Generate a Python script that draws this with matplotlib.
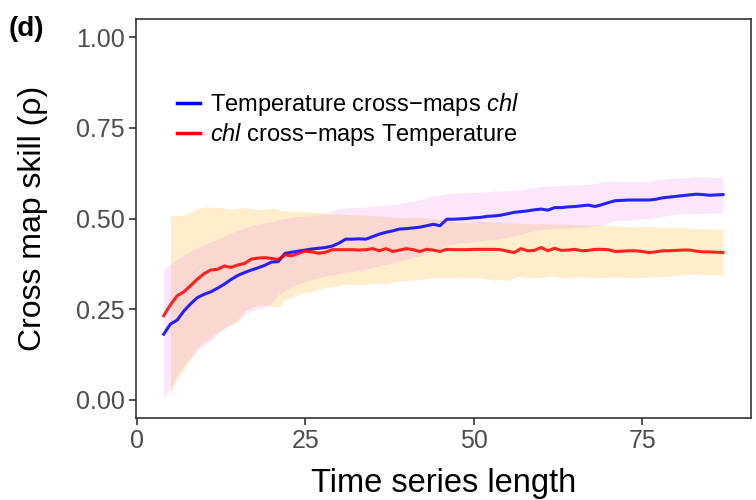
import numpy as np
import matplotlib
matplotlib.use("Agg")
import matplotlib.pyplot as plt

plt.rcParams['font.family'] = ['Liberation Sans', 'DejaVu Sans']
plt.rcParams['mathtext.fontset'] = 'custom'
plt.rcParams['mathtext.it'] = 'Liberation Sans:italic'
plt.rcParams['mathtext.rm'] = 'Liberation Sans'

# library sizes (time series length)
lib_size = list(range(4, 88))

# Temperature cross-maps chl (blue line + violet ribbon)
temp_xmap_chl = [
    0.181, 0.209, 0.220, 0.245, 0.265, 0.282, 0.291, 0.298, 0.308, 0.319,
    0.332, 0.343, 0.351, 0.358, 0.364, 0.371, 0.380, 0.381, 0.404, 0.407,
    0.410, 0.413, 0.416, 0.418, 0.420, 0.424, 0.432, 0.443, 0.443, 0.444,
    0.443, 0.450, 0.457, 0.462, 0.466, 0.471, 0.472, 0.474, 0.476, 0.480,
    0.484, 0.480, 0.498, 0.498, 0.499, 0.500, 0.502, 0.503, 0.506, 0.507,
    0.509, 0.513, 0.517, 0.519, 0.521, 0.524, 0.526, 0.523, 0.530, 0.530,
    0.532, 0.533, 0.535, 0.537, 0.533, 0.538, 0.544, 0.549, 0.550, 0.551,
    0.551, 0.551, 0.551, 0.553, 0.557, 0.559, 0.561, 0.563, 0.565, 0.567,
    0.566, 0.564, 0.565, 0.566]
temp_upper = [
    0.360, 0.375, 0.388, 0.400, 0.410, 0.420, 0.428, 0.436, 0.443, 0.451,
    0.460, 0.468, 0.474, 0.480, 0.485, 0.488, 0.491, 0.497, 0.500, 0.503,
    0.506, 0.507, 0.508, 0.510, 0.512, 0.520, 0.527, 0.529, 0.530, 0.531,
    0.532, 0.534, 0.535, 0.537, 0.539, 0.541, 0.545, 0.548, 0.551, 0.556,
    0.562, 0.565, 0.568, 0.570, 0.571, 0.572, 0.572, 0.573, 0.574, 0.576,
    0.576, 0.576, 0.577, 0.578, 0.582, 0.586, 0.588, 0.589, 0.590, 0.591,
    0.592, 0.592, 0.593, 0.594, 0.596, 0.600, 0.603, 0.604, 0.602, 0.602,
    0.601, 0.601, 0.602, 0.605, 0.608, 0.610, 0.611, 0.612, 0.613, 0.615,
    0.615, 0.614, 0.613, 0.613]
temp_lower = [
    0.007, 0.030, 0.070, 0.095, 0.118, 0.135, 0.150, 0.163, 0.180, 0.198,
    0.210, 0.222, 0.236, 0.245, 0.250, 0.256, 0.268, 0.290, 0.300, 0.312,
    0.320, 0.327, 0.332, 0.337, 0.341, 0.345, 0.348, 0.351, 0.354, 0.356,
    0.360, 0.365, 0.370, 0.374, 0.378, 0.383, 0.388, 0.393, 0.396, 0.404,
    0.412, 0.418, 0.425, 0.430, 0.433, 0.434, 0.437, 0.438, 0.441, 0.443,
    0.445, 0.448, 0.452, 0.457, 0.462, 0.466, 0.470, 0.471, 0.472, 0.473,
    0.474, 0.475, 0.476, 0.478, 0.480, 0.482, 0.488, 0.494, 0.495, 0.496,
    0.497, 0.498, 0.500, 0.503, 0.506, 0.509, 0.512, 0.513, 0.513, 0.514,
    0.514, 0.515, 0.515, 0.515]

# chl cross-maps Temperature (red line + orange ribbon)
chl_xmap_temp = [
    0.232, 0.262, 0.287, 0.298, 0.315, 0.333, 0.348, 0.358, 0.360, 0.369,
    0.365, 0.372, 0.376, 0.388, 0.391, 0.392, 0.390, 0.387, 0.400, 0.397,
    0.404, 0.410, 0.408, 0.404, 0.407, 0.414, 0.414, 0.414, 0.414, 0.413,
    0.414, 0.417, 0.411, 0.417, 0.409, 0.413, 0.417, 0.414, 0.409, 0.415,
    0.413, 0.409, 0.415, 0.414, 0.414, 0.414, 0.415, 0.415, 0.415, 0.415,
    0.414, 0.410, 0.406, 0.417, 0.411, 0.412, 0.420, 0.411, 0.418, 0.412,
    0.413, 0.415, 0.411, 0.412, 0.415, 0.415, 0.414, 0.409, 0.410, 0.411,
    0.411, 0.409, 0.406, 0.408, 0.411, 0.411, 0.412, 0.413, 0.413, 0.410,
    0.408, 0.408, 0.407, 0.406]
chl_upper = [
    np.nan, 0.509, 0.506, 0.510, 0.517, 0.527, 0.532, 0.531, 0.530, 0.528,
    0.526, 0.528, 0.530, 0.527, 0.524, 0.526, 0.528, 0.525, 0.521, 0.520,
    0.519, 0.519, 0.517, 0.516, 0.514, 0.512, 0.512, 0.511, 0.510, 0.510,
    0.509, 0.508, 0.507, 0.505, 0.504, 0.503, 0.502, 0.503, 0.503, 0.500,
    0.498, 0.496, 0.494, 0.491, 0.489, 0.489, 0.490, 0.492, 0.491, 0.490,
    0.489, 0.488, 0.487, 0.487, 0.486, 0.486, 0.486, 0.485, 0.485, 0.484,
    0.484, 0.483, 0.483, 0.482, 0.482, 0.482, 0.481, 0.480, 0.479, 0.478,
    0.478, 0.478, 0.477, 0.477, 0.476, 0.475, 0.475, 0.474, 0.473, 0.472,
    0.471, 0.471, 0.470, 0.470]
chl_lower = [
    np.nan, 0.011, 0.057, 0.085, 0.110, 0.145, 0.160, 0.172, 0.188, 0.196,
    0.205, 0.215, 0.245, 0.255, 0.260, 0.262, 0.258, 0.254, 0.278, 0.282,
    0.291, 0.295, 0.300, 0.304, 0.310, 0.312, 0.315, 0.319, 0.319, 0.318,
    0.319, 0.321, 0.323, 0.320, 0.324, 0.327, 0.328, 0.330, 0.332, 0.334,
    0.337, 0.337, 0.336, 0.337, 0.338, 0.337, 0.337, 0.336, 0.333, 0.330,
    0.333, 0.328, 0.338, 0.340, 0.336, 0.338, 0.337, 0.340, 0.341, 0.336,
    0.338, 0.337, 0.339, 0.338, 0.336, 0.337, 0.338, 0.338, 0.338, 0.337,
    0.337, 0.337, 0.338, 0.339, 0.340, 0.341, 0.343, 0.345, 0.347, 0.346,
    0.345, 0.344, 0.344, 0.344]

y_ticks = [0.00, 0.25, 0.50, 0.75, 1.00]
x_ticks = [0, 25, 50, 75]

fig = plt.figure(figsize=(7.56, 5.0), dpi=100)
ax = fig.add_axes([0.1795, 0.164, 0.8139, 0.798])

# ribbons (orange under, violet over -> pink overlap)
ax.fill_between(lib_size, chl_lower, chl_upper, color='orange', alpha=0.2, lw=0)
ax.fill_between(lib_size, temp_lower, temp_upper, color='violet', alpha=0.2, lw=0)

ax.plot(lib_size, temp_xmap_chl, color='blue', alpha=0.85, lw=2.2,
        label='Temperature cross\u2212maps $\\mathit{chl}$')
ax.plot(lib_size, chl_xmap_temp, color='red', alpha=0.85, lw=2.2,
        label='$\\mathit{chl}$ cross\u2212maps Temperature')

ax.set_xlim(-0.15, 91.15)
ax.set_ylim(-0.05, 1.05)
ax.set_xticks(x_ticks)
ax.set_yticks(y_ticks)
ax.set_yticklabels(['%.2f' % v for v in y_ticks])

for s in ax.spines.values():
    s.set_color('#333333')
    s.set_linewidth(1.2)
ax.tick_params(axis='both', colors='#333333', length=5, width=1.2,
               labelsize=18, labelcolor='#4D4D4D', pad=3)

ax.set_xlabel('Time series length', fontsize=23.5, labelpad=11)
ax.set_ylabel('Cross map skill (\u03c1)', fontsize=23, labelpad=20)

leg = ax.legend(loc='upper left', bbox_to_anchor=(0.052, 0.843), frameon=False,
                fontsize=17, handlelength=0.95, handletextpad=0.45,
                labelspacing=0.12, borderaxespad=0)
for h in leg.get_lines():
    h.set_alpha(1.0)
    h.set_linewidth(2.5)

fig.text(0.012, 0.928, '(d)', fontsize=20, fontweight='bold')

fig.savefig('out.png', dpi=100)
